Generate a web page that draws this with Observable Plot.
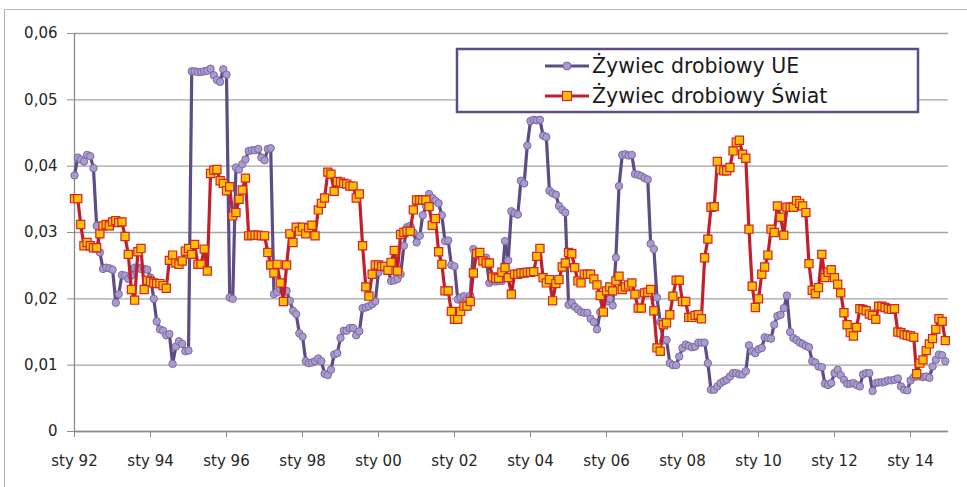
<!DOCTYPE html>
<html><head><meta charset="utf-8">
<script src="https://cdn.jsdelivr.net/npm/d3@7"></script>
<script src="https://cdn.jsdelivr.net/npm/@observablehq/plot@0.6"></script>
<style>
html,body{margin:0;padding:0;background:#fff;}
#chart{width:967px;height:487px;}
</style></head><body><div id="chart"></div>
<script>
const seriesNames = ["Żywiec drobiowy UE", "Żywiec drobiowy Świat"];
const monthPrefix = "sty";
const yTicks = [0, 0.01, 0.02, 0.03, 0.04, 0.05, 0.06];
const xTickYears = [1992, 1994, 1996, 1998, 2000, 2002, 2004, 2006, 2008, 2010, 2012, 2014];

// monthly values, Jan 1992 – Dec 2014
const ue = [
0.0386,0.0413,0.0410,0.0407,0.0417,0.0415,0.0397,0.0310,0.0270,0.0245,0.0247,0.0246,
0.0244,0.0194,0.0207,0.0236,0.0235,0.0230,0.0235,0.0247,0.0247,0.0245,0.0245,0.0244,
0.0232,0.0200,0.0166,0.0154,0.0152,0.0145,0.0147,0.0102,0.0128,0.0136,0.0132,0.0121,
0.0122,0.0543,0.0543,0.0542,0.0542,0.0543,0.0544,0.0547,0.0537,0.0530,0.0527,0.0546,
0.0538,0.0202,0.0200,0.0398,0.0395,0.0403,0.0410,0.0423,0.0424,0.0424,0.0426,0.0413,
0.0409,0.0426,0.0427,0.0207,0.0210,0.0215,0.0213,0.0212,0.0197,0.0182,0.0177,0.0148,
0.0143,0.0106,0.0103,0.0104,0.0106,0.0110,0.0106,0.0087,0.0085,0.0093,0.0116,0.0118,
0.0141,0.0152,0.0152,0.0156,0.0156,0.0145,0.0151,0.0186,0.0187,0.0189,0.0192,0.0196,
0.0240,0.0247,0.0247,0.0245,0.0227,0.0228,0.0230,0.0237,0.0280,0.0308,0.0310,0.0300,
0.0285,0.0295,0.0326,0.0340,0.0358,0.0352,0.0348,0.0344,0.0326,0.0287,0.0288,0.0251,
0.0249,0.0199,0.0202,0.0204,0.0200,0.0205,0.0275,0.0270,0.0265,0.0262,0.0262,0.0224,
0.0227,0.0226,0.0227,0.0227,0.0287,0.0258,0.0332,0.0329,0.0327,0.0378,0.0374,0.0431,
0.0468,0.0470,0.0469,0.0470,0.0446,0.0444,0.0363,0.0359,0.0357,0.0340,0.0334,0.0330,
0.0191,0.0194,0.0188,0.0184,0.0180,0.0179,0.0179,0.0170,0.0165,0.0154,0.0180,0.0196,
0.0196,0.0200,0.0190,0.0262,0.0370,0.0417,0.0418,0.0416,0.0417,0.0388,0.0387,0.0385,
0.0382,0.0380,0.0283,0.0275,0.0202,0.0165,0.0137,0.0138,0.0103,0.0100,0.0100,0.0113,
0.0126,0.0131,0.0129,0.0127,0.0128,0.0134,0.0134,0.0134,0.0103,0.0063,0.0063,0.0068,
0.0073,0.0076,0.0078,0.0083,0.0088,0.0088,0.0086,0.0086,0.0091,0.0130,0.0121,0.0118,
0.0124,0.0126,0.0142,0.0141,0.0140,0.0161,0.0174,0.0176,0.0186,0.0205,0.0150,0.0141,
0.0138,0.0134,0.0132,0.0129,0.0127,0.0106,0.0104,0.0098,0.0097,0.0072,0.0070,0.0073,
0.0088,0.0093,0.0085,0.0078,0.0072,0.0072,0.0073,0.0070,0.0068,0.0086,0.0088,0.0088,
0.0061,0.0073,0.0074,0.0074,0.0075,0.0077,0.0077,0.0078,0.0080,0.0068,0.0063,0.0062,
0.0077,0.0082,0.0083,0.0083,0.0082,0.0083,0.0081,0.0098,0.0108,0.0116,0.0115,0.0106
];
const swiat = [
0.0351,0.0351,0.0312,0.0280,0.0285,0.0280,0.0277,0.0277,0.0298,0.0310,0.0312,0.0310,
0.0316,0.0318,0.0315,0.0316,0.0294,0.0267,0.0214,0.0198,0.0271,0.0276,0.0214,0.0228,
0.0226,0.0224,0.0223,0.0223,0.0220,0.0216,0.0258,0.0266,0.0254,0.0252,0.0257,0.0272,
0.0276,0.0267,0.0282,0.0252,0.0252,0.0275,0.0242,0.0389,0.0394,0.0395,0.0378,0.0374,
0.0363,0.0369,0.0325,0.0330,0.0350,0.0364,0.0382,0.0295,0.0296,0.0296,0.0296,0.0295,
0.0295,0.0270,0.0251,0.0239,0.0252,0.0224,0.0196,0.0251,0.0298,0.0285,0.0308,0.0302,
0.0308,0.0298,0.0307,0.0311,0.0295,0.0334,0.0344,0.0352,0.0391,0.0388,0.0362,0.0377,
0.0376,0.0374,0.0373,0.0370,0.0370,0.0352,0.0358,0.0280,0.0218,0.0204,0.0237,0.0251,
0.0251,0.0249,0.0249,0.0243,0.0255,0.0273,0.0242,0.0297,0.0300,0.0302,0.0302,0.0334,
0.0349,0.0349,0.0349,0.0349,0.0339,0.0311,0.0321,0.0271,0.0252,0.0212,0.0212,0.0181,
0.0169,0.0169,0.0181,0.0189,0.0189,0.0196,0.0239,0.0268,0.0270,0.0257,0.0254,0.0254,
0.0233,0.0231,0.0231,0.0240,0.0247,0.0232,0.0207,0.0237,0.0237,0.0239,0.0239,0.0240,
0.0240,0.0241,0.0264,0.0276,0.0232,0.0224,0.0229,0.0197,0.0223,0.0229,0.0248,0.0254,
0.0270,0.0268,0.0247,0.0227,0.0224,0.0237,0.0237,0.0237,0.0230,0.0221,0.0205,0.0180,
0.0212,0.0218,0.0212,0.0227,0.0234,0.0214,0.0218,0.0221,0.0224,0.0207,0.0186,0.0186,
0.0209,0.0210,0.0214,0.0182,0.0126,0.0121,0.0161,0.0164,0.0176,0.0204,0.0228,0.0228,
0.0196,0.0196,0.0172,0.0172,0.0175,0.0176,0.0170,0.0262,0.0290,0.0338,0.0339,0.0407,
0.0395,0.0393,0.0393,0.0398,0.0423,0.0436,0.0439,0.0418,0.0412,0.0305,0.0219,0.0187,
0.0200,0.0237,0.0248,0.0266,0.0305,0.0300,0.0340,0.0323,0.0296,0.0338,0.0338,0.0338,
0.0348,0.0344,0.0340,0.0330,0.0253,0.0213,0.0208,0.0217,0.0267,0.0232,0.0240,0.0244,
0.0232,0.0222,0.0209,0.0179,0.0161,0.0149,0.0144,0.0157,0.0185,0.0184,0.0182,0.0177,
0.0175,0.0169,0.0189,0.0189,0.0187,0.0185,0.0184,0.0185,0.0150,0.0149,0.0146,0.0145,
0.0144,0.0142,0.0087,0.0103,0.0108,0.0122,0.0132,0.0140,0.0154,0.0170,0.0166,0.0137
];

const monthDate = i => new Date(Date.UTC(1992, i, 1));
const ueRows = ue.map((v, i) => ({date: monthDate(i), value: v}));
const swRows = swiat.map((v, i) => ({date: monthDate(i), value: v}));
const xTicks = xTickYears.map(y => new Date(Date.UTC(y, 0, 1)));
const xDomain = [monthDate(0), monthDate(276)];

const PURPLE = "#5d4c86", PURPLE_FILL = "#a99bcb", PURPLE_EDGE = "#7b69a6";
const RED = "#c01f2b", GOLD = "#ffc000", RED_EDGE = "#d3232b";
const AXIS = "#8c8c8c", GRID = "#a3a3a3";
const FONT = "DejaVu Sans";

const chart = Plot.plot({
  width: 967, height: 487,
  marginLeft: 74, marginRight: 19, marginTop: 33, marginBottom: 56,
  style: {fontFamily: FONT, fontSize: "15px", color: "#262626", background: "white"},
  x: {type: "utc", domain: xDomain, label: null},
  y: {domain: [0, 0.06], label: null},
  marks: [
    Plot.gridY(yTicks, {stroke: GRID, strokeOpacity: 1, strokeWidth: 1.3}),
    Plot.axisY(yTicks, {label: null, tickFormat: d => d === 0 ? "0" : d.toFixed(2).replace(".", ","), tickSize: 7, tickPadding: 10, stroke: AXIS, fontSize: 15}),
    Plot.ruleX([xDomain[0]], {stroke: AXIS, strokeWidth: 1.3}),
    Plot.ruleY([0], {stroke: AXIS, strokeWidth: 1.6}),
    Plot.axisX(xTicks, {label: null, tickFormat: d => monthPrefix + " " + String(d.getUTCFullYear()).slice(2), tickSize: 6, tickPadding: 18, stroke: AXIS, fontSize: 15}),
    Plot.line(ueRows, {x: "date", y: "value", stroke: PURPLE, strokeWidth: 3.2, curve: "linear"}),
    Plot.dot(ueRows, {x: "date", y: "value", r: 3.7, fill: PURPLE_FILL, stroke: PURPLE_EDGE, strokeWidth: 1}),
    Plot.line(swRows, {x: "date", y: "value", stroke: RED, strokeWidth: 3.2, curve: "linear"}),
    Plot.dot(swRows, {x: "date", y: "value", symbol: "square", r: 4.6, fill: GOLD, stroke: RED_EDGE, strokeWidth: 1.2})
  ]
});
document.getElementById("chart").appendChild(chart);

// outer chart frame and legend
const svg = d3.select(chart);
svg.append("path").attr("d", "M4.5,487V9.5H967").attr("fill", "none").attr("stroke", "#b5b5b5").attr("stroke-width", 1);
const lg = svg.append("g");
lg.append("rect").attr("x", 457).attr("y", 49).attr("width", 461).attr("height", 63)
  .attr("fill", "white").attr("stroke", PURPLE).attr("stroke-width", 2.5);
const legendItems = [
  {name: seriesNames[0], line: PURPLE, kind: "circle", y: 66},
  {name: seriesNames[1], line: RED, kind: "square", y: 96}
];
legendItems.forEach(it => {
  lg.append("line").attr("x1", 545).attr("x2", 589).attr("y1", it.y).attr("y2", it.y)
    .attr("stroke", it.line).attr("stroke-width", 3);
  if (it.kind === "circle") {
    lg.append("circle").attr("cx", 567).attr("cy", it.y).attr("r", 4)
      .attr("fill", PURPLE_FILL).attr("stroke", PURPLE_EDGE).attr("stroke-width", 1);
  } else {
    lg.append("rect").attr("x", 562.5).attr("y", it.y - 4.5).attr("width", 9).attr("height", 9)
      .attr("fill", GOLD).attr("stroke", RED_EDGE).attr("stroke-width", 1.2);
  }
  lg.append("text").attr("x", 592).attr("y", it.y).attr("dy", "0.36em")
    .attr("text-anchor", "start")
    .attr("font-family", FONT).attr("font-size", 20.5).attr("fill", "#1a1a1a").text(it.name);
});
</script>
</body></html>
